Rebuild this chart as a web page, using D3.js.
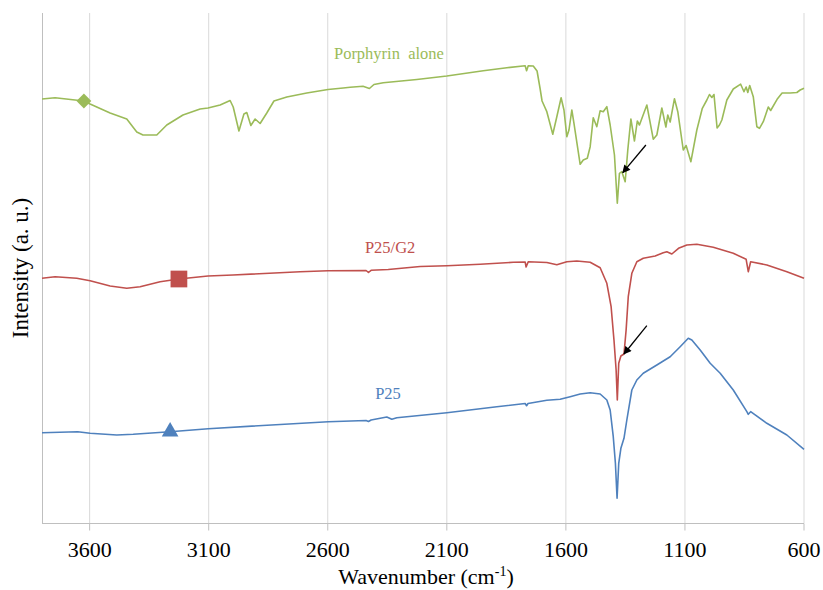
<!DOCTYPE html>
<html>
<head>
<meta charset="utf-8">
<script src="https://cdn.jsdelivr.net/npm/d3@7"></script>
<style>
  html, body { margin: 0; padding: 0; background: #fff; }
  svg { display: block; }
</style>
</head>
<body>
<svg id="chart" width="823" height="590"></svg>
<script>
// ---- Data (wavenumber in cm-1, intensity in arbitrary units) ----
const xTicks = [3600, 3100, 2600, 2100, 1600, 1100, 600];
const xTitle = "Wavenumber (cm";
const yTitle = "Intensity (a. u.)";

const porphyrinWn = [3800,3745,3624,3598,3514,3444,3402,3376,3318,3276,3208,3136,3103,3052,3024,3010,2997,2973,2952,2940,2923,2905,2884,2856,2826,2772,2688,2599,2535,2506,2452,2425,2406,2367,2226,2100,1947,1848,1771,1765,1758,1737,1721,1708,1700,1680,1655,1638,1620,1608,1596,1587,1575,1566,1540,1527,1510,1498,1485,1470,1456,1443,1428,1414,1396,1384,1375,1365,1351,1340,1327,1312,1300,1291,1260,1233,1218,1197,1180,1172,1162,1144,1130,1107,1095,1075,1050,1027,1008,997,987,978,965,955,945,924,897,866,852,843,836,828,813,798,787,771,750,740,713,692,658,630,616,600];
const porphyrinI  = [4.24,4.253,4.22,4.19,4.10,4.04,3.91,3.88,3.88,3.98,4.08,4.14,4.15,4.18,4.21,4.225,4.16,3.92,4.09,4.105,3.975,4.04,3.995,4.10,4.22,4.26,4.30,4.335,4.35,4.357,4.367,4.345,4.385,4.403,4.435,4.47,4.523,4.553,4.572,4.523,4.573,4.57,4.52,4.34,4.22,4.113,3.887,4.063,4.253,4.13,3.863,3.93,4.13,3.997,3.587,3.63,3.647,3.763,4.053,3.963,4.123,4.113,4.163,3.98,3.68,3.197,3.497,3.513,3.413,3.73,4.04,3.82,4.02,3.98,4.18,3.838,3.88,4.15,3.96,4.08,4.01,4.243,4.113,3.73,3.775,3.613,3.93,4.147,4.23,4.285,4.255,4.285,3.95,3.98,4.03,4.23,4.34,4.388,4.313,4.36,4.305,4.375,4.263,3.963,3.947,4.013,4.16,4.125,4.237,4.30,4.30,4.305,4.33,4.347];

const p25g2Wn = [3800,3745,3654,3598,3514,3444,3388,3304,3225,3103,2998,2716,2599,2439,2429,2418,2346,2212,2100,1960,1821,1771,1767,1758,1680,1638,1596,1554,1498,1456,1428,1410,1398,1389,1384,1378,1369,1356,1347,1338,1323,1302,1275,1225,1191,1176,1155,1127,1092,1050,981,897,843,834,824,756,672,600];
const p25g2I  = [2.447,2.463,2.447,2.423,2.37,2.347,2.363,2.413,2.44,2.47,2.48,2.513,2.523,2.525,2.505,2.527,2.535,2.565,2.573,2.587,2.607,2.61,2.56,2.613,2.605,2.582,2.613,2.62,2.607,2.553,2.397,2.163,1.83,1.53,1.23,1.597,1.67,1.69,1.93,2.263,2.497,2.613,2.647,2.67,2.703,2.713,2.69,2.747,2.78,2.787,2.757,2.697,2.637,2.513,2.613,2.58,2.513,2.447];

const p25Wn = [3800,3650,3598,3486,3417,3262,3102,2598,2439,2429,2418,2352,2331,2310,2100,1890,1771,1765,1759,1680,1624,1582,1540,1498,1456,1428,1414,1401,1392,1385,1378,1369,1356,1344,1323,1302,1275,1218,1162,1120,1086,1071,1036,994,952,897,840,834,824,756,672,600];
const p25I  = [0.903,0.913,0.897,0.88,0.887,0.913,0.943,1.013,1.025,1.015,1.03,1.06,1.037,1.053,1.103,1.163,1.195,1.173,1.195,1.227,1.237,1.263,1.29,1.303,1.29,1.23,1.13,0.863,0.597,0.247,0.597,0.747,0.847,1.03,1.33,1.43,1.497,1.58,1.663,1.763,1.847,1.83,1.73,1.597,1.497,1.33,1.113,1.087,1.113,0.997,0.88,0.737];

const seriesNames  = ["Porphyrin  alone", "P25/G2", "P25"];
const seriesColors = ["#9BBB59", "#C0504D", "#4F81BD"];
const markerShapes = ["diamond", "square", "triangle"];
const markerWn     = [3624, 3225, 3262];
const markerI      = [4.22, 2.44, 0.913];
const labelWn      = [2343, 2338, 2347];
const labelI       = [4.637, 2.70, 1.24];

// annotation arrows [fromWn, fromI, toWn, toI]
const arrows = [
  [1264, 3.78, 1361, 3.503],
  [1260, 1.973, 1356, 1.69]
];

// ---- Layout ----
const FONT = '"Liberation Serif"';
const svg = d3.select("#chart");
const plot = { left: 42, right: 804, top: 13, bottom: 523 };

const x = d3.scaleLinear().domain([3800, 600]).range([plot.left, plot.right]);
const y = d3.scaleLinear().domain([0, 5.1]).range([plot.bottom, plot.top]);

// gridlines
svg.append("g").selectAll("line").data(xTicks).join("line")
  .attr("x1", d => x(d)).attr("x2", d => x(d))
  .attr("y1", plot.top).attr("y2", plot.bottom)
  .attr("stroke", "#D9D9D9").attr("stroke-width", 1);

// left axis line
svg.append("line")
  .attr("x1", plot.left + 0.5).attr("x2", plot.left + 0.5)
  .attr("y1", plot.top).attr("y2", plot.bottom)
  .attr("stroke", "#BFBFBF").attr("stroke-width", 1);

// bottom axis
const gx = svg.append("g").attr("transform", `translate(0,${plot.bottom + 0.5})`);
gx.append("line").attr("x1", plot.left).attr("x2", plot.right)
  .attr("stroke", "#BFBFBF");
gx.selectAll("line.tk").data(xTicks).join("line").attr("class", "tk")
  .attr("x1", d => x(d)).attr("x2", d => x(d)).attr("y1", 0).attr("y2", 7)
  .attr("stroke", "#BFBFBF");
gx.selectAll("text").data(xTicks).join("text")
  .attr("x", d => x(d)).attr("y", 33)
  .attr("text-anchor", "middle")
  .style("font-family", FONT).style("font-size", "22px").attr("fill", "#000")
  .text(d => d3.format("d")(d));

// axis titles
const xt = svg.append("text")
  .attr("x", (plot.left + plot.right) / 2 + 3).attr("y", 584)
  .attr("text-anchor", "middle").style("font-family", FONT).style("font-size", "22px").attr("fill", "#000");
xt.append("tspan").text(xTitle);
xt.append("tspan").text("-1").style("font-size", "14px").attr("dy", -8);
xt.append("tspan").text(")").attr("dy", 8);

svg.append("text")
  .attr("transform", `translate(28,${(plot.top + plot.bottom) / 2}) rotate(-90)`)
  .attr("text-anchor", "middle").style("font-family", FONT).style("font-size", "23px").attr("fill", "#000")
  .text(yTitle);

// series lines
const allWn = [porphyrinWn, p25g2Wn, p25Wn];
const allI = [porphyrinI, p25g2I, p25I];
const line = d3.line().x(d => x(d[0])).y(d => y(d[1]));

allWn.forEach((wn, i) => {
  const pts = wn.map((w, k) => [w, allI[i][k]]);
  svg.append("path").datum(pts)
    .attr("d", line).attr("fill", "none")
    .attr("stroke", seriesColors[i]).attr("stroke-width", 1.6)
    .attr("stroke-linejoin", "round");
});

// markers
markerShapes.forEach((s, i) => {
  const cx = x(markerWn[i]), cy = y(markerI[i]);
  const p = svg.append("path").attr("fill", seriesColors[i]);
  if (s === "diamond") {
    p.attr("d", d3.symbol().type(d3.symbolSquare).size(110)())
     .attr("transform", `translate(${cx},${cy}) rotate(45)`);
  } else if (s === "square") {
    p.attr("d", d3.symbol().type(d3.symbolSquare).size(280)())
     .attr("transform", `translate(${cx},${cy})`);
  } else {
    p.attr("d", d3.symbol().type(d3.symbolTriangle).size(120)())
     .attr("transform", `translate(${cx},${cy})`);
  }
});

// series labels
seriesNames.forEach((n, i) => {
  svg.append("text")
    .attr("x", x(labelWn[i])).attr("y", y(labelI[i]))
    .attr("text-anchor", "middle").style("font-family", FONT).style("font-size", "16.5px")
    .style("white-space", "pre")
    .attr("fill", seriesColors[i])
    .text(n);
});

// arrows
const defs = svg.append("defs");
defs.append("marker").attr("id", "ah").attr("viewBox", "0 0 10 10")
  .attr("refX", 9).attr("refY", 5).attr("markerWidth", 9).attr("markerHeight", 8)
  .attr("markerUnits", "userSpaceOnUse").attr("orient", "auto")
  .append("path").attr("d", "M0,0L10,5L0,10Z").attr("fill", "#000");
svg.append("g").selectAll("line").data(arrows).join("line")
  .attr("x1", d => x(d[0])).attr("y1", d => y(d[1]))
  .attr("x2", d => x(d[2])).attr("y2", d => y(d[3]))
  .attr("stroke", "#000").attr("stroke-width", 1.3)
  .attr("marker-end", "url(#ah)");
</script>
</body>
</html>
